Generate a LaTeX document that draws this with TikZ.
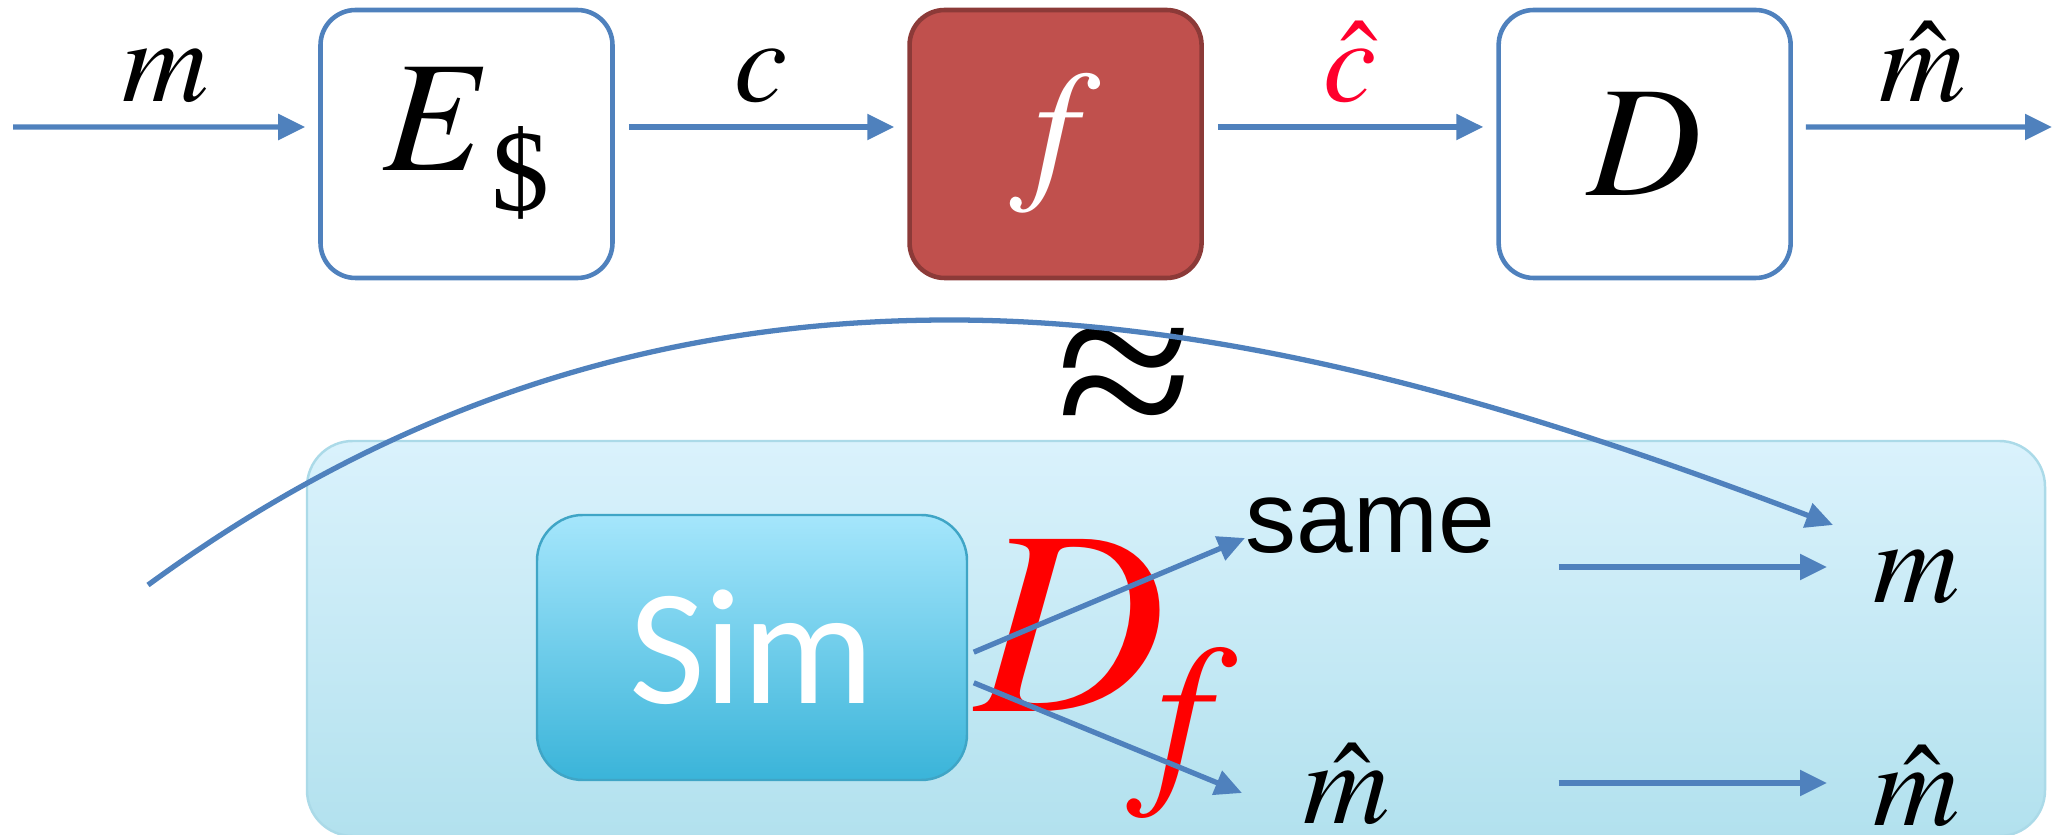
\documentclass[tikz,border=0pt]{standalone}
\usepackage{mathptmx}
\usepackage[no-math]{fontspec}
\setmainfont{Liberation Serif}
\newfontfamily\simfont{Carlito}
\newfontfamily\samefont{Liberation Sans}
\usetikzlibrary{positioning, arrows.meta}

\definecolor{arrowblue}{RGB}{79,129,189}
\definecolor{fillred}{RGB}{192,80,77}
\definecolor{linered}{RGB}{140,58,56}
\definecolor{hatred}{RGB}{255,0,45}
\definecolor{paneltop}{RGB}{218,242,252}
\definecolor{panelbot}{RGB}{178,225,238}
\definecolor{panelline}{RGB}{171,218,232}
\definecolor{simtop}{RGB}{165,230,252}
\definecolor{simbot}{RGB}{58,180,217}
\definecolor{simline}{RGB}{63,165,198}

\tikzset{
  block/.style = {
    rectangle, draw=arrowblue, line width=1.3pt, fill=white,
    minimum width=2.92cm, minimum height=2.68cm,
    rounded corners=10pt, inner sep=0pt,
    font=\fontsize{45}{50}\selectfont,
  },
  fblock/.style = {block, draw=linered, fill=fillred, text=white},
  panel/.style = {
    rectangle, draw=panelline, line width=0.7pt,
    top color=paneltop, bottom color=panelbot,
    minimum width=17.38cm, minimum height=3.95cm, rounded corners=13pt,
  },
  simbox/.style = {
    rectangle, draw=simline, line width=0.7pt,
    top color=simtop, bottom color=simbot,
    minimum width=4.30cm, minimum height=2.65cm, rounded corners=13pt,
    text=white, font=\fontsize{47}{50}\selectfont\simfont,
  },
  arrow/.style = {arrowblue, line width=1.5pt, -{Triangle[length=0.27cm, width=0.25cm]}},
  lbl/.style = {inner sep=0pt, text=black, font=\fontsize{34}{38}\selectfont},
}

\begin{document}
\begin{tikzpicture}[node distance=2.925cm]
    \useasboundingbox (0,0) rectangle (20.52,8.34);
    % --- Top row ---
    \coordinate (in)  at (0.13,7.07);
    \coordinate (out) at (20.52,7.07);
    \node[block]               (E) at (4.665,6.90) {$E$\raisebox{-0.4cm}{\fontsize{33}{36}\selectfont\$}};
    \node[fblock, right=of E]  (f) {$f$};
    \node[block, right=of f]   (D) {$D$};

    \draw[arrow, shorten >=0.13cm] (in) -- node[lbl, above=0.22cm] {$m$} ([yshift=0.17cm]E.west);
    \draw[arrow, shorten <=0.14cm, shorten >=0.13cm] ([yshift=0.17cm]E.east) -- node[lbl, above=0.22cm] {$c$} ([yshift=0.17cm]f.west);
    \draw[arrow, shorten <=0.14cm, shorten >=0.13cm] ([yshift=0.17cm]f.east) -- node[lbl, above=0.22cm, text=hatred] {$\hat{c}$} ([yshift=0.17cm]D.west);
    \draw[arrow, shorten <=0.13cm] ([yshift=0.17cm]D.east) -- node[lbl, above=0.22cm] {$\hat{m}$} (out);

    \node (approx) at (11.25,4.45) {\scalebox{1}[0.95]{\fontsize{71}{71}\selectfont ≈}};

    % --- Simulator ---
    \node[panel]  (panel) at (11.76,1.955) {};
    \node[simbox] (sim)   at (7.52,1.865) {Sim};
    \node[anchor=base west, inner sep=0pt, text=red] (Df) at (9.75,1.22)
      {{\fontsize{75}{80}\selectfont$D$}\hspace{-0.4cm}\raisebox{-0.66cm}{\fontsize{55}{58}\selectfont$f$}};

    \node[inner sep=0pt, anchor=west, text height=0.30cm, text depth=0pt,
          font=\fontsize{29}{32}\selectfont\samefont] (same) at (12.45,2.96) {same};
    \node[lbl, anchor=west, text height=0.68cm, text depth=0pt] (mhatM) at (13.03,0.44) {$\hat{m}$};
    \node[lbl, anchor=west, text height=0.72cm, text depth=0pt] (mR)    at (18.73,2.67) {$m$};
    \node[lbl, anchor=west, text height=0.85cm, text depth=0pt] (mhatR) at (18.73,0.51) {$\hat{m}$};

    \draw[arrow, shorten <=0.06cm] ([yshift=-0.07cm]sim.east) -- (same.west);
    \draw[arrow, shorten <=0.06cm] ([yshift=-0.33cm]sim.east) -- ([xshift=-0.61cm, yshift=-0.03cm]mhatM.west);
    \draw[arrow] (same.east |- mR.west) ++(0.63,0) -- ([xshift=-0.46cm]mR.west);
    \draw[arrow] (mhatM.east |- mhatR.west) ++(1.68,0) -- ([xshift=-0.46cm]mhatR.west);

    % Curve from the input m to the output m
    \coordinate (cstart) at (1.48,2.49);
    \draw[arrow] (cstart) .. controls (4.15,4.44) and (6.83,5.14) .. (9.50,5.14)
      .. controls (12.44,5.14) and (15.39,4.21) .. ([shift={(-0.40,0.42)}]mR.west);
\end{tikzpicture}
\end{document}
